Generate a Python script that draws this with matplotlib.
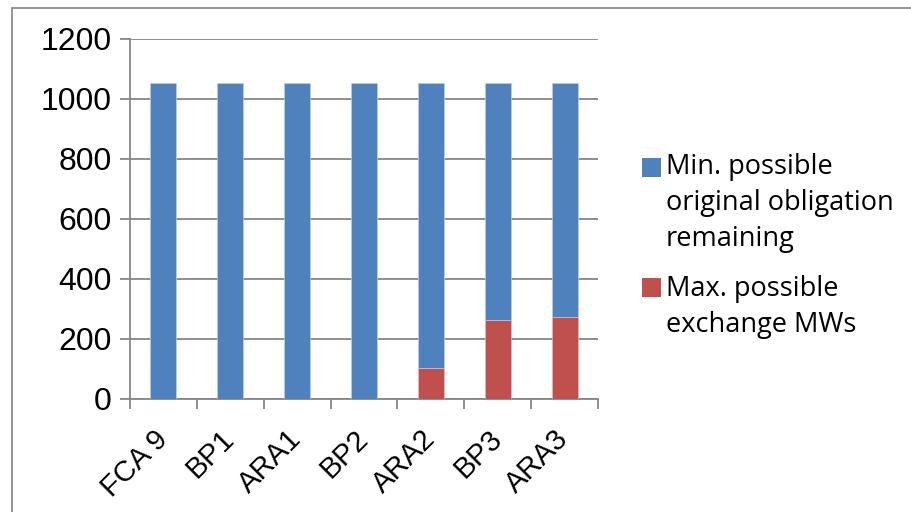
import matplotlib
matplotlib.use("Agg")
import matplotlib.pyplot as plt
from matplotlib.patches import Rectangle
import matplotlib.transforms as mtransforms
import numpy as np

categories = ["FCA 9", "BP1", "ARA1", "BP2", "ARA2", "BP3", "ARA3"]
exchange_mw = [0, 0, 0, 0, 102, 265, 272]
total_mw = [1054, 1054, 1054, 1054, 1054, 1054, 1054]
obligation_mw = [t - e for t, e in zip(total_mw, exchange_mw)]
series_names = ["Min. possible\noriginal obligation\nremaining", "Max. possible\nexchange MWs"]
yticks = [0, 200, 400, 600, 800, 1000, 1200]

blue = "#4F81BD"
red = "#C0504D"
grid_col = "#868686"

W, H = 912, 512
fig = plt.figure(figsize=(W / 100, H / 100), dpi=100)
ax = fig.add_axes([130 / W, 1 - 399 / H, (598 - 130) / W, (399 - 39) / H])

x = np.arange(len(categories))
bw = 0.39
ax.bar(x, exchange_mw, bw, color=red, edgecolor="#e3b9b8", linewidth=0.5, zorder=3)
ax.bar(x, obligation_mw, bw, bottom=exchange_mw, color=blue, edgecolor="#b9cde6", linewidth=0.5, zorder=3)

ax.set_xlim(-0.5, len(categories) - 0.5)
ax.set_ylim(0, 1200)
ax.set_yticks(yticks)
ax.set_yticklabels([str(v) for v in yticks], fontsize=23, family="Liberation Sans")
ax.yaxis.grid(True, color=grid_col, linewidth=1.3, zorder=0)
ax.set_axisbelow(True)

# category labels, rotated
ax.set_xticks(x)
ax.set_xticklabels([])
base = ax.get_xaxis_transform()
offset = mtransforms.ScaledTranslation(-10 / 100, -26 / 100, fig.dpi_scale_trans)
for xi, cat in zip(x, categories):
    ax.text(xi, 0, cat, transform=base + offset, fontsize=21, family="Liberation Sans",
            rotation=45, ha="right", va="top", rotation_mode="anchor", clip_on=False)
ax.set_xticks(np.arange(-0.5, len(categories), 1.0), minor=True)
ax.tick_params(axis="x", which="major", length=0)
ax.tick_params(axis="x", which="minor", length=7, width=1.3, color=grid_col, direction="out")
ax.tick_params(axis="y", length=7, width=1.3, color=grid_col, direction="out", pad=6)

for s in ["top", "right"]:
    ax.spines[s].set_visible(False)
for s in ["left", "bottom"]:
    ax.spines[s].set_color(grid_col)
    ax.spines[s].set_linewidth(1.3)

# outer frame
fig.patches.append(Rectangle((12 / W, -0.2), 2, 1 - 7.5 / H + 0.2, transform=fig.transFigure,
                             fill=False, edgecolor="#8c8c8c", linewidth=1.3))

# legend (manual)
lf = dict(fontsize=19.5, family=["Open Sans", "DejaVu Sans"], linespacing=1.38, va="top", ha="left")
fig.patches.append(Rectangle((642 / W, 1 - 177 / H), 19 / W, 19 / H, transform=fig.transFigure,
                             facecolor=blue, edgecolor="none"))
fig.text(666 / W, 1 - 153 / H, series_names[0], **lf)
fig.patches.append(Rectangle((642 / W, 1 - 297 / H), 19 / W, 19 / H, transform=fig.transFigure,
                             facecolor=red, edgecolor="none"))
fig.text(666 / W, 1 - 275 / H, series_names[1], **lf)

fig.savefig("out.png", dpi=100)
